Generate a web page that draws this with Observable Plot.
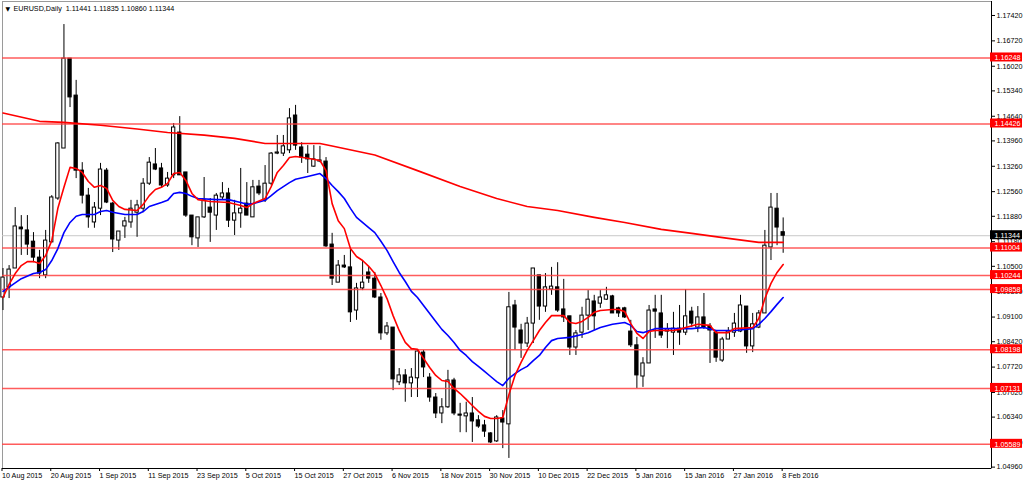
<!DOCTYPE html>
<html><head><meta charset="utf-8">
<script src="https://cdn.jsdelivr.net/npm/d3@7"></script>
<script src="https://cdn.jsdelivr.net/npm/@observablehq/plot@0.6"></script>
<style>
html,body{margin:0;padding:0;background:#fff;}
#chart svg{display:block;}
</style></head><body><div id="chart"></div>
<script>
// ---- Data (EURUSD Daily, 10 Aug 2015 .. 8 Feb 2016, one entry per trading day) ----
const open = [1.0964,1.0992,1.1044,1.1157,1.1149,1.1118,1.1074,1.1025,1.1116,1.1237,
1.1375,1.1623,1.1521,1.1314,1.1245,1.1171,1.1209,1.1314,1.1223,1.1121,
1.1160,1.1171,1.1198,1.1209,1.1278,1.1331,1.1320,1.1273,1.1301,1.1419,
1.1309,1.1190,1.1127,1.1185,1.1212,1.1190,1.1240,1.1251,1.1176,1.1196,
1.1223,1.1185,1.1270,1.1232,1.1278,1.1361,1.1361,1.1370,1.1466,1.1378,
1.1358,1.1325,1.1339,1.1339,1.1110,1.1005,1.1052,1.1047,1.0928,1.0989,
1.1033,1.1016,1.0964,1.0865,1.0881,1.0730,1.0749,1.0727,1.0741,1.0812,
1.0743,1.0688,1.0644,1.0661,1.0735,1.0641,1.0636,1.0644,1.0625,1.0611,
1.0589,1.0567,1.0630,1.0614,1.0942,1.0873,1.0837,1.0892,1.1025,1.0939,
1.0986,1.0992,1.0931,1.0912,1.0826,1.0867,1.0914,1.0953,1.0947,1.0958,
1.0967,1.0934,1.0934,1.0870,1.0832,1.0746,1.0782,1.0931,1.0920,1.0870,
1.0867,1.0878,1.0867,1.0925,1.0881,1.0909,1.0884,1.0867,1.0790,1.0848,
1.0867,1.0870,1.0939,1.0829,1.0881,1.0920,1.1102,1.1209,1.11441];
const high = [1.1044,1.1052,1.1212,1.1190,1.1190,1.1143,1.1094,1.1149,1.1245,1.1391,
1.1717,1.1623,1.1563,1.1336,1.1265,1.1226,1.1334,1.1320,1.1226,1.1146,
1.1185,1.1232,1.1232,1.1292,1.1350,1.1375,1.1334,1.1309,1.1444,1.1463,
1.1309,1.1190,1.1185,1.1295,1.1237,1.1251,1.1281,1.1265,1.1232,1.1320,
1.1281,1.1287,1.1287,1.1328,1.1364,1.1411,1.1411,1.1485,1.1494,1.1391,
1.1383,1.1383,1.1381,1.1350,1.1141,1.1066,1.1080,1.1096,1.1003,1.1066,
1.1047,1.1033,1.0975,1.0895,1.0881,1.0768,1.0765,1.0768,1.0818,1.0818,
1.0754,1.0699,1.0685,1.0763,1.0741,1.0672,1.0675,1.0688,1.0638,1.0625,
1.0591,1.0638,1.0652,1.0978,1.0956,1.0890,1.0909,1.1044,1.1025,1.1030,
1.1047,1.1060,1.1014,1.0912,1.0873,1.0937,1.0983,1.0970,1.0983,1.0992,
1.0970,1.0937,1.0937,1.0901,1.0854,1.0798,1.0942,1.0970,1.0970,1.0892,
1.0923,1.0942,1.0986,1.0937,1.0939,1.0975,1.0892,1.0873,1.0854,1.0881,
1.0920,1.0970,1.0939,1.0920,1.0928,1.1149,1.1251,1.1251,1.11835];
const low = [1.0928,1.0961,1.1044,1.1080,1.1080,1.1060,1.1016,1.1016,1.1116,1.1232,
1.1375,1.1488,1.1292,1.1222,1.1155,1.1155,1.1190,1.1223,1.1088,1.1094,
1.1127,1.1155,1.1130,1.1198,1.1273,1.1314,1.1265,1.1268,1.1292,1.1301,
1.1185,1.1107,1.1102,1.1182,1.1116,1.1149,1.1232,1.1157,1.1135,1.1155,
1.1190,1.1185,1.1245,1.1226,1.1273,1.1358,1.1353,1.1361,1.1370,1.1334,
1.1306,1.1323,1.1336,1.1102,1.0997,1.1005,1.1044,1.0895,1.0901,1.0983,
1.1003,1.0961,1.0846,1.0859,1.0707,1.0721,1.0675,1.0688,1.0688,1.0743,
1.0675,1.0630,1.0616,1.0658,1.0638,1.0591,1.0591,1.0564,1.0603,1.0578,
1.0561,1.0564,1.0547,1.0520,1.0818,1.0796,1.0826,1.0837,1.0901,1.0923,
1.0970,1.0923,1.0895,1.0804,1.0804,1.0851,1.0873,1.0873,1.0934,1.0956,
1.0920,1.0909,1.0906,1.0826,1.0713,1.0716,1.0782,1.0851,1.0851,1.0823,
1.0804,1.0832,1.0859,1.0881,1.0867,1.0876,1.0782,1.0785,1.0785,1.0848,
1.0854,1.0867,1.0810,1.0812,1.0878,1.0920,1.1066,1.1107,1.10860];
const close = [1.1019,1.1041,1.1160,1.1152,1.1110,1.1074,1.1030,1.1121,1.1240,1.1389,
1.1623,1.1516,1.1314,1.1245,1.1185,1.1212,1.1317,1.1226,1.1124,1.1146,
1.1174,1.1209,1.1218,1.1278,1.1336,1.1317,1.1273,1.1292,1.1433,1.1301,
1.1190,1.1130,1.1185,1.1232,1.1198,1.1245,1.1251,1.1176,1.1196,1.1209,
1.1190,1.1268,1.1251,1.1278,1.1361,1.1364,1.1381,1.1458,1.1383,1.1350,
1.1345,1.1345,1.1342,1.1105,1.1016,1.1052,1.1047,1.0923,1.0989,1.1005,
1.1016,1.0964,1.0865,1.0884,1.0738,1.0749,1.0727,1.0743,1.0815,1.0771,
1.0688,1.0644,1.0661,1.0735,1.0644,1.0638,1.0644,1.0622,1.0608,1.0594,
1.0564,1.0633,1.0619,1.0937,1.0881,1.0837,1.0892,1.1044,1.0939,1.0992,
1.0994,1.0928,1.0909,1.0826,1.0865,1.0914,1.0958,1.0912,1.0964,1.0970,
1.0920,1.0920,1.0909,1.0832,1.0749,1.0782,1.0928,1.0925,1.0859,1.0876,
1.0878,1.0867,1.0912,1.0892,1.0909,1.0881,1.0873,1.0798,1.0848,1.0870,
1.0892,1.0942,1.0829,1.0890,1.0920,1.1107,1.1212,1.1157,1.11344];

// date labels, one every 8 bars starting at bar 0
const dateLabels = ["10 Aug 2015","20 Aug 2015","1 Sep 2015","11 Sep 2015","23 Sep 2015",
"5 Oct 2015","15 Oct 2015","27 Oct 2015","6 Nov 2015","18 Nov 2015","30 Nov 2015",
"10 Dec 2015","22 Dec 2015","5 Jan 2016","15 Jan 2016","27 Jan 2016","8 Feb 2016"];
const dateBars = [0,8,16,24,32,40,48,56,64,72,80,88,96,104,112,120,128];

// price axis tick labels
const yTicks = [1.04960,1.05640,1.06340,1.07020,1.07720,1.08420,1.09100,1.09800,1.10500,
1.11180,1.11880,1.12560,1.13260,1.13960,1.14640,1.15340,1.16020,1.16720,1.17420];

// horizontal support / resistance levels
const levels = [1.16248,1.14426,1.11004,1.10244,1.09858,1.08198,1.07131,1.05589];
const lastPrice = 1.11344;
const header = {symbol:"EURUSD,Daily", o:"1.11441", h:"1.11835", l:"1.10860", c:"1.11344"};

// moving averages: [bar, value]
const longMA = [[0,1.1473],[6,1.1450],[10,1.1447],[16,1.1439],[22,1.1429],[27,1.1419],
[33,1.1412],[38,1.1403],[43,1.1389],[52,1.1389],[54,1.1382],[61,1.1357],[68,1.1314],
[75,1.1270],[81,1.1237],[86,1.1215],[91,1.1204],[97,1.1185],[102,1.1171],[108,1.1152],
[113,1.1141],[119,1.1127],[124,1.1116],[128,1.1116]];
const fastMA = [[0,1.0964],[1,1.1000],[2,1.1030],[3,1.1052],[4,1.1063],[5,1.1063],[6,1.1058],
[7,1.1080],[8,1.1121],[9,1.1210],[10,1.1268],[11,1.1323],[12,1.1320],[13,1.1309],[14,1.1284],
[15,1.1268],[16,1.1273],[17,1.1265],[18,1.1232],[19,1.1215],[20,1.1207],[22,1.1204],
[23,1.1221],[24,1.1245],[25,1.1262],[26,1.1268],[27,1.1279],[28,1.1306],[29,1.1309],
[30,1.1287],[31,1.1251],[32,1.1234],[34,1.1229],[37,1.1226],[39,1.1218],[40,1.1212],
[41,1.1223],[43,1.1237],[44,1.1270],[45,1.1309],[46,1.1328],[47,1.1350],[48,1.1353],
[50,1.1348],[52,1.1342],[53,1.1314],[54,1.1223],[55,1.1176],[56,1.1154],[57,1.1099],
[58,1.1077],[59,1.1066],[60,1.1050],[61,1.1030],[62,1.0997],[63,1.0961],[64,1.0914],
[65,1.0873],[66,1.0840],[67,1.0823],[68,1.0821],[69,1.0796],[70,1.0771],[71,1.0749],
[72,1.0735],[73,1.0732],[74,1.0713],[75,1.0699],[76,1.0683],[77,1.0666],[78,1.0650],
[79,1.0636],[80,1.0630],[81,1.0630],[82,1.0633],[83,1.0696],[84,1.0749],[85,1.0785],
[86,1.0818],[87,1.0845],[88,1.0873],[89,1.0895],[90,1.0914],[91,1.0914],[92,1.0914],
[93,1.0895],[94,1.0892],[95,1.0898],[96,1.0909],[97,1.0923],[98,1.0928],[100,1.0931],
[101,1.0931],[102,1.0925],[103,1.0892],[104,1.0865],[105,1.0851],[106,1.0870],[107,1.0873],
[110,1.0873],[111,1.0876],[112,1.0881],[114,1.0890],[116,1.0887],[117,1.0867],[119,1.0867],
[120,1.0878],[123,1.0881],[124,1.0906],[125,1.0961],[126,1.1003],[127,1.1033],[128,1.1055]];
const midMA = [[0,1.0981],[3,1.1016],[5,1.1030],[6,1.1033],[7,1.1041],[8,1.1066],[9,1.1099],
[10,1.1143],[11,1.1171],[12,1.1188],[13,1.1193],[15,1.1193],[16,1.1201],[17,1.1204],
[18,1.1199],[20,1.1193],[22,1.1193],[23,1.1201],[24,1.1215],[26,1.1226],[27,1.1232],
[28,1.1251],[29,1.1254],[30,1.1251],[31,1.1243],[32,1.1237],[35,1.1234],[37,1.1234],
[39,1.1226],[40,1.1221],[41,1.1223],[43,1.1232],[44,1.1245],[45,1.1259],[46,1.1270],
[47,1.1281],[48,1.1290],[50,1.1298],[52,1.1306],[53,1.1292],[54,1.1273],[55,1.1256],
[56,1.1237],[57,1.1210],[58,1.1185],[60,1.1157],[61,1.1143],[62,1.1119],[63,1.1094],
[64,1.1063],[65,1.1033],[66,1.1008],[67,1.0981],[68,1.0964],[69,1.0942],[70,1.0920],
[71,1.0898],[72,1.0876],[73,1.0859],[74,1.0840],[75,1.0818],[76,1.0804],[77,1.0787],
[78,1.0774],[79,1.0760],[80,1.0746],[81,1.0732],[82,1.0721],[83,1.0741],[84,1.0754],
[85,1.0765],[86,1.0774],[87,1.0790],[88,1.0804],[89,1.0826],[90,1.0845],[91,1.0851],
[93,1.0854],[95,1.0862],[96,1.0867],[98,1.0881],[100,1.0890],[102,1.0895],[103,1.0887],
[104,1.0870],[105,1.0867],[107,1.0878],[110,1.0878],[113,1.0878],[115,1.0881],[117,1.0873],
[120,1.0873],[123,1.0878],[124,1.0890],[125,1.0906],[126,1.0925],[127,1.0945],[128,1.0964]];

// ---- Chart ----
const candles = open.map((o, i) => ({i, o, h: high[i], l: low[i], c: close[i], up: close[i] >= o}));
const X0 = -0.082, X1 = 162.18;
const Y0 = 1.04922, Y1 = 1.17806;
const FONT = "'Liberation Sans',Arial,sans-serif";
const FS = 7.2;

const chart = Plot.plot({
  width: 1024, height: 485,
  marginLeft: 2, marginRight: 33, marginTop: 1, marginBottom: 17,
  style: {fontFamily: FONT, fontSize: FS + "px", background: "#fff", color: "#000", overflow: "visible"},
  x: {type: "linear", domain: [X0, X1], axis: null},
  y: {type: "linear", domain: [Y0, Y1], axis: null},
  marks: [
    Plot.frame({stroke: "#9a9a9a"}),
    Plot.ruleY([lastPrice], {stroke: "#c8c8c8", strokeWidth: 1}),
    Plot.ruleX(candles, {x: "i", y1: "l", y2: "h", stroke: "#000", strokeWidth: 1}),
    Plot.rect(candles, {
      x1: d => d.i - 0.27, x2: d => d.i + 0.27, y1: "o", y2: "c",
      fill: d => d.up ? "#fff" : "#000", stroke: "#000", strokeWidth: 1
    }),
    Plot.ruleY(levels, {stroke: "#ff4040", strokeWidth: 1.5, strokeOpacity: 0.85}),
    Plot.line(longMA, {x: d => d[0], y: d => d[1], stroke: "#ff0000", strokeWidth: 1.6}),
    Plot.line(midMA, {x: d => d[0], y: d => d[1], stroke: "#0000ff", strokeWidth: 1.6}),
    Plot.line(fastMA, {x: d => d[0], y: d => d[1], stroke: "#ff0000", strokeWidth: 1.6}),
    Plot.axisY({anchor: "right", label: null, ticks: yTicks, tickFormat: d => d.toFixed(5), tickSize: 3,
      tickPadding: 2, fontSize: FS, fill: "#000", stroke: "#000"}),
    Plot.axisX({anchor: "bottom", label: null, ticks: dateBars, tickFormat: d => dateLabels[dateBars.indexOf(d)],
      tickSize: 3, tickPadding: 1, textAnchor: "start", dx: -1, fontSize: FS, fill: "#000", stroke: "#000"}),
    Plot.ruleX([X1], {stroke: "#000", strokeWidth: 1}),
    Plot.ruleY([Y0], {stroke: "#000", strokeWidth: 1}),
    Plot.rect(levels, {x1: () => X1, x2: () => X1, y1: d => d, y2: d => d,
      insetLeft: -1, insetRight: -31, insetTop: -5, insetBottom: -4, fill: "#ff0000"}),
    Plot.text(levels, {x: () => X1, y: d => d, text: d => d.toFixed(5), fill: "#fff",
      textAnchor: "start", dx: 3, fontSize: FS}),
    Plot.rect([lastPrice], {x1: () => X1, x2: () => X1, y1: d => d, y2: d => d,
      insetLeft: -1, insetRight: -31, insetTop: -5, insetBottom: -4, fill: "#000"}),
    Plot.text([lastPrice], {x: () => X1, y: d => d, text: d => d.toFixed(5), fill: "#fff",
      textAnchor: "start", dx: 3, fontSize: FS}),
    Plot.text(["\u25BC"], {frameAnchor: "top-left", dx: 3, dy: 5, fontSize: 6, fill: "#000",
      textAnchor: "start", lineAnchor: "top", fontFamily: "DejaVu Sans"}),
    Plot.text([header], {frameAnchor: "top-left", dx: 11, dy: 4, fontSize: FS, fill: "#000",
      textAnchor: "start", lineAnchor: "top",
      text: d => `${d.symbol}  ${d.o} ${d.h} ${d.l} ${d.c}`})
  ]
});
document.getElementById("chart").appendChild(chart);
</script>
</body></html>
